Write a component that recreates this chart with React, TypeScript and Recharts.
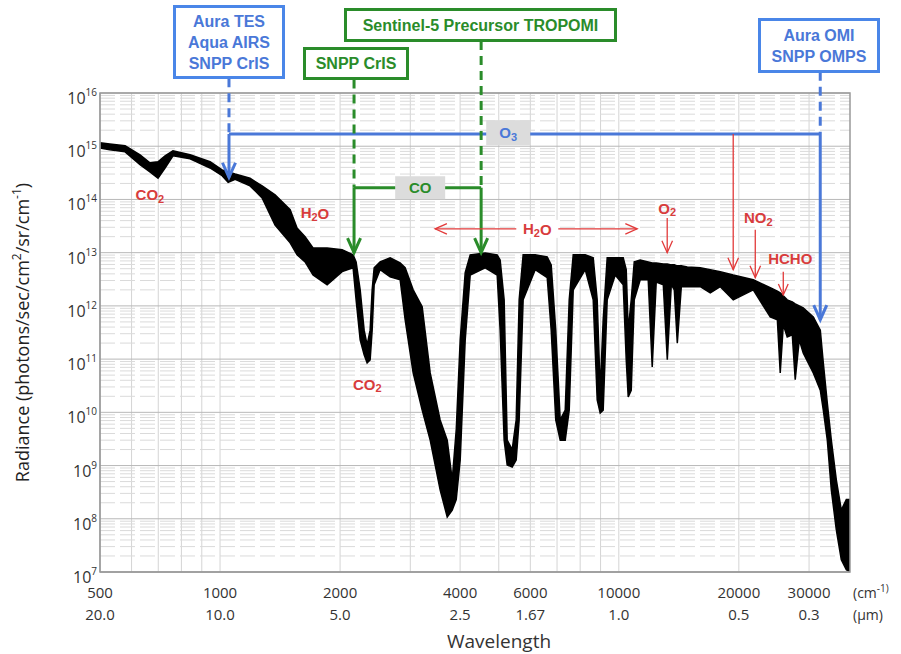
import React from 'react';
import {
  ComposedChart,
  Area,
  XAxis,
  YAxis,
  CartesianGrid,
  ReferenceLine,
  ReferenceDot,
  ReferenceArea,
} from 'recharts';

// spectrum envelope: wavenumber (cm-1) and upper / lower radiance
const wavenumber = [
  500, 529, 578, 630, 667, 699, 728, 762, 841, 944, 1012, 1048, 1091, 1189, 1275, 1374,
  1499, 1560, 1634, 1711, 1856, 2024, 2156, 2194, 2246, 2298, 2338, 2379, 2407, 2435,
  2520, 2670, 2829, 2912, 3050, 3213, 3365, 3564, 3713, 3822, 3911, 4002, 4119, 4240,
  4623, 4954, 5040, 5158, 5249, 5403, 5529, 5625, 5756, 6170, 6614, 6768, 6948, 7130,
  7339, 7510, 7686, 8237, 8626, 8827, 8981, 9138, 9352, 9795, 10258, 10438, 10559, 10744,
  10932, 11316, 11851, 12128, 12411, 12929, 13231, 13541, 13777, 14018, 14347, 14852,
  16006, 16957, 17966, 19364, 21736, 23975, 24980, 25398, 25850, 26446, 27230, 27695,
  28350, 29005, 30742, 32012, 32571, 33333, 34113, 35112, 36142, 37203, 38000,
];
const radianceHigh = [
  1.16e15, 1.1e15, 1.02e15, 6.9e14, 4.9e14, 5.1e14, 6.6e14, 8.2e14, 6.9e14, 5.1e14, 3.6e14, 3.3e14, 3.0e14, 2.5e14, 1.8e14, 1.22e14,
  6.4e13, 2.9e13, 2.0e13, 1.23e13, 1.23e13, 1.13e13, 9.1e12, 6.7e12, 2.0e12, 3.5e11, 1.85e11, 3.5e11, 2.0e12, 5.2e12,
  6.7e12, 8.0e12, 6.4e12, 5.2e12, 2.0e12, 9.6e11, 5.5e10, 7.2e9, 3.0e9, 5.4e8, 4.7e9, 2.3e11, 4.2e12, 9.1e12,
  9.9e12, 9.1e12, 7.3e12, 1.3e12, 3.0e9, 2.0e9, 7.2e9, 1.3e12, 9.1e12, 9.1e12, 8.3e12, 5.9e12, 3.5e11, 7.2e9,
  1.1e10, 1.3e12, 9.1e12, 9.1e12, 8.0e12, 1.3e12, 2.6e10, 5.5e11, 8.0e12, 8.0e12, 8.0e12, 4.8e12, 3.5e11, 1.3e12,
  6.7e12, 7.3e12, 6.7e12, 6.4e12, 6.4e12, 6.15e12, 6.15e12, 5.9e12, 5.9e12, 5.65e12, 5.65e12, 5.4e12,
  5.2e12, 4.8e12, 4.4e12, 3.8e12, 3.1e12, 2.2e12, 1.9e12, 1.75e12, 1.54e12, 1.3e12, 1.19e12, 1.09e12,
  1.0e12, 9.2e11, 6.2e11, 3.5e11, 8.5e10, 1.5e10, 3.0e9, 5.4e8, 1.46e8, 2.3e8, 2.3e8,
];
const radianceLow = [
  9.3e14, 8.6e14, 7.85e14, 4.5e14, 3.3e14, 2.5e14, 3.9e14, 6.6e14, 5.8e14, 3.9e14, 2.8e14, 2.1e14, 2.4e14, 1.8e14, 1.07e14, 3.3e13,
  1.53e13, 9.1e12, 6.7e12, 3.8e12, 2.5e12, 4.4e12, 5.2e12, 1.3e12, 2.3e11, 1.2e11, 8.5e10, 9.7e10, 3.5e11, 2.5e12,
  4.8e12, 3.5e12, 3.1e12, 5.5e11, 5.5e10, 1.1e10, 3.0e9, 3.5e8, 1.08e8, 1.46e8, 2.3e8, 1.27e9, 2.3e11, 3.8e12,
  5.2e12, 3.8e12, 3.5e11, 3.0e9, 1.03e9, 9.4e8, 1.27e9, 7.2e9, 1.3e12, 4.8e12, 3.4e12, 3.5e11, 7.2e9, 3.0e9,
  3.0e9, 1.1e10, 2.0e12, 4.8e12, 1.3e12, 1.71e10, 9.7e9, 1.1e10, 1.3e12, 3.8e12, 2.5e12, 9.7e10, 1.95e10, 2.6e10,
  1.3e12, 3.1e12, 3.1e12, 7.1e10, 2.8e12, 2.5e12, 9.7e10, 2.5e12, 2.0e12, 2.0e11, 2.3e12, 2.3e12,
  2.3e12, 1.75e12, 2.3e12, 1.3e12, 2.0e12, 6.2e11, 5.5e11, 5.5e10, 4.4e11, 2.6e11, 2.85e11, 4.1e10,
  2.3e11, 1.3e11, 5.5e10, 2.6e10, 1.1e10, 3.0e9, 3.5e8, 6.2e7, 1.7e7, 1.1e7, 1.0e7,
];

const xTicks = [500, 1000, 2000, 4000, 6000, 10000, 20000, 30000];
const micronLabels = ['20.0', '10.0', '5.0', '2.5', '1.67', '1.0', '0.5', '0.3'];
const decadeTicks = [1e7, 1e8, 1e9, 1e10, 1e11, 1e12, 1e13, 1e14, 1e15, 1e16];
const minorMultipliers = [2, 3, 4, 5, 6, 7, 8, 9];
const gridWavenumbers = [
  600, 700, 800, 900, 1000, 2000, 3000, 4000, 5000, 6000, 7000, 8000, 9000, 10000, 20000, 30000,
];

const spectrum = wavenumber.map((wn, i) => ({
  wn,
  band: [radianceLow[i], radianceHigh[i]],
}));
const minorY = decadeTicks
  .slice(0, -1)
  .flatMap((d) => minorMultipliers.map((m) => m * d));

const BLUE = '#4a78d8';
const GREEN = '#2a8c2a';
const RED = '#e23a3a';
const TXT_RED = '#d83c3c';
const AXIS_FONT = "'Open Sans', 'Liberation Sans', sans-serif";
const BOLD_FONT = "'Liberation Sans', Arial, sans-serif";

type ArrowOpts = { color: string; width: number; head?: number; both?: boolean; dash?: string };

const arrowShape =
  ({ color, width, head = 0, both = false, dash }: ArrowOpts) =>
  (p: any) => {
    const { x1, y1, x2, y2 } = p;
    const vee = (tx: number, ty: number, fx: number, fy: number) => {
      const a = Math.atan2(ty - fy, tx - fx);
      const s = 0.42;
      return `M${tx - head * Math.cos(a - s)},${ty - head * Math.sin(a - s)} L${tx},${ty} L${
        tx - head * Math.cos(a + s)
      },${ty - head * Math.sin(a + s)}`;
    };
    return (
      <g>
        <line x1={x1} y1={y1} x2={x2} y2={y2} stroke={color} strokeWidth={width} strokeDasharray={dash} />
        {head > 0 && <path d={vee(x2, y2, x1, y1)} fill="none" stroke={color} strokeWidth={width} />}
        {head > 0 && both && <path d={vee(x1, y1, x2, y2)} fill="none" stroke={color} strokeWidth={width} />}
      </g>
    );
  };

const sub = (t: string, after?: string) => [
  <tspan key="s" dy={4} fontSize={11}>
    {t}
  </tspan>,
  after ? (
    <tspan key="a" dy={-4}>
      {after}
    </tspan>
  ) : null,
];

const redLabel =
  (content: React.ReactNode) =>
  (p: any) => (
    <text
      x={p.cx}
      y={p.cy}
      textAnchor="middle"
      dominantBaseline="central"
      fontSize={15}
      fontWeight="bold"
      fontFamily={BOLD_FONT}
      fill={TXT_RED}
    >
      {content}
    </text>
  );

const boxLabel =
  (content: React.ReactNode, color: string, w: number, h: number, bg: string) =>
  (p: any) => (
    <g>
      <rect x={p.cx - w / 2} y={p.cy - h / 2} width={w} height={h} fill={bg} />
      <text
        x={p.cx}
        y={p.cy}
        textAnchor="middle"
        dominantBaseline="central"
        fontSize={15}
        fontWeight="bold"
        fontFamily={BOLD_FONT}
        fill={color}
      >
        {content}
      </text>
    </g>
  );

const XTick = ({ x, y, payload }: any) => {
  const i = xTicks.indexOf(payload.value);
  return (
    <g fontFamily={AXIS_FONT} fontSize={15} fill="#333">
      <text x={x} y={y + 26} textAnchor="middle">
        {payload.value}
      </text>
      <text x={x} y={y + 48} textAnchor="middle">
        {micronLabels[i]}
      </text>
    </g>
  );
};

const YTick = ({ x, y, payload }: any) => {
  const exp = Math.round(Math.log10(payload.value));
  return (
    <text x={x - 3} y={y + 11} textAnchor="end" fontSize={16} fill="#333" fontFamily={AXIS_FONT}>
      10
      <tspan dy={-8} fontSize={10}>
        {exp}
      </tspan>
    </text>
  );
};

const boxStyle = (color: string, left: number, top: number, w: number, h: number): React.CSSProperties => ({
  position: 'absolute',
  left,
  top,
  width: w,
  height: h,
  boxSizing: 'border-box',
  border: `3px solid ${color}`,
  background: '#fff',
  color,
  fontFamily: BOLD_FONT,
  fontWeight: 'bold',
  fontSize: 16,
  lineHeight: '21px',
  textAlign: 'center',
  display: 'flex',
  flexDirection: 'column',
  justifyContent: 'center',
});

export default function App() {
  return (
    <div style={{ position: 'absolute', left: 0, top: 0, width: 901, height: 654, background: '#fff' }}>
      <ComposedChart
        width={901}
        height={654}
        data={spectrum}
        margin={{ top: 93, right: 51, bottom: 0, left: 0 }}
      >
        <CartesianGrid horizontal={false} verticalValues={gridWavenumbers} stroke="#d4d4d4" />
        <CartesianGrid vertical={false} horizontalValues={minorY} stroke="#dadada" strokeDasharray="15 5" />
        <CartesianGrid vertical={false} horizontalValues={decadeTicks} stroke="#b8b8b8" />
        <XAxis
          dataKey="wn"
          type="number"
          scale="log"
          domain={[500, 38000]}
          allowDataOverflow
          ticks={xTicks}
          interval={0}
          tick={<XTick />}
          tickLine={false}
          tickSize={0}
          tickMargin={0}
          height={82}
          axisLine={{ stroke: '#999' }}
          label={{
            content: () => (
              <g fontFamily={AXIS_FONT} fill="#333">
                <text x={499} y={648} textAnchor="middle" fontSize={19}>
                  Wavelength
                </text>
                <text x={853} y={598} fontSize={14}>
                  (cm
                  <tspan dy={-6} fontSize={10}>
                    -1)
                  </tspan>
                </text>
                <text x={853} y={620} fontSize={14}>
                  (µm)
                </text>
              </g>
            ),
          }}
        />
        <YAxis
          type="number"
          scale="log"
          domain={[1e7, 1e16]}
          allowDataOverflow
          ticks={decadeTicks}
          interval={0}
          tick={<YTick />}
          tickLine={false}
          tickSize={0}
          tickMargin={0}
          width={100}
          axisLine={{ stroke: '#999' }}
          label={{
            content: (p: any) => {
              const vb = p.viewBox || { y: 93, height: 479 };
              const cy = vb.y + vb.height / 2;
              return (
                <text
                  x={22}
                  y={cy}
                  transform={`rotate(-90, 22, ${cy})`}
                  textAnchor="middle"
                  dominantBaseline="central"
                  fontSize={18}
                  fontFamily={AXIS_FONT}
                  fill="#222"
                >
                  Radiance (photons/sec/cm
                  <tspan dy={-6} fontSize={12}>
                    2
                  </tspan>
                  <tspan dy={6}>/sr/cm</tspan>
                  <tspan dy={-6} fontSize={12}>
                    -1
                  </tspan>
                  <tspan dy={6}>)</tspan>
                </text>
              );
            },
          }}
        />
        <Area
          type="linear"
          dataKey="band"
          stroke="#000"
          strokeWidth={1.5}
          fill="#000"
          fillOpacity={1}
          isAnimationActive={false}
          dot={false}
          activeDot={false}
        />
        <ReferenceArea x1={500} x2={38000} y1={1e7} y2={1e16} fill="none" stroke="#999" strokeWidth={1.5} ifOverflow="visible" />

        {/* O3 bracket (blue) */}
        <ReferenceLine segment={[{ x: 1053, y: 1.9e16 }, { x: 1053, y: 1.7e15 }]} ifOverflow="visible" shape={arrowShape({ color: BLUE, width: 3, dash: '9 6' })} />
        <ReferenceLine segment={[{ x: 32000, y: 2.5e16 }, { x: 32000, y: 1.7e15 }]} ifOverflow="visible" shape={arrowShape({ color: BLUE, width: 3, dash: '9 6' })} />
        <ReferenceLine segment={[{ x: 1053, y: 1.7e15 }, { x: 32000, y: 1.7e15 }]} ifOverflow="visible" shape={arrowShape({ color: BLUE, width: 3 })} />
        <ReferenceLine segment={[{ x: 1053, y: 1.7e15 }, { x: 1053, y: 2.6e14 }]} ifOverflow="visible" shape={arrowShape({ color: BLUE, width: 3, head: 16 })} />
        <ReferenceLine segment={[{ x: 32000, y: 1.7e15 }, { x: 32000, y: 5.5e11 }]} ifOverflow="visible" shape={arrowShape({ color: BLUE, width: 3, head: 16 })} />
        <ReferenceDot x={5280} y={1.8e15} ifOverflow="visible" shape={boxLabel(<>O{sub('3')}</>, BLUE, 44, 25, '#dcdcdc')} />

        {/* CO bracket (green) */}
        <ReferenceLine segment={[{ x: 2168, y: 1.8e16 }, { x: 2168, y: 1.66e14 }]} ifOverflow="visible" shape={arrowShape({ color: GREEN, width: 3, dash: '9 6' })} />
        <ReferenceLine segment={[{ x: 4516, y: 9.5e16 }, { x: 4516, y: 1.66e14 }]} ifOverflow="visible" shape={arrowShape({ color: GREEN, width: 3, dash: '9 6' })} />
        <ReferenceLine segment={[{ x: 2168, y: 1.66e14 }, { x: 4516, y: 1.66e14 }]} ifOverflow="visible" shape={arrowShape({ color: GREEN, width: 3 })} />
        <ReferenceLine segment={[{ x: 2168, y: 1.66e14 }, { x: 2168, y: 1e13 }]} ifOverflow="visible" shape={arrowShape({ color: GREEN, width: 3, head: 16 })} />
        <ReferenceLine segment={[{ x: 4516, y: 1.66e14 }, { x: 4516, y: 1e13 }]} ifOverflow="visible" shape={arrowShape({ color: GREEN, width: 3, head: 16 })} />
        <ReferenceDot x={3176} y={1.66e14} ifOverflow="visible" shape={boxLabel('CO', GREEN, 50, 23, '#dcdcdc')} />

        {/* red absorber markers */}
        <ReferenceLine segment={[{ x: 3461, y: 2.8e13 }, { x: 11120, y: 2.8e13 }]} ifOverflow="visible" shape={arrowShape({ color: RED, width: 1.3, head: 13, both: true })} />
        <ReferenceDot x={6245} y={2.8e13} ifOverflow="visible" shape={boxLabel(<>H{sub('2', 'O')}</>, TXT_RED, 42, 18, '#fff')} />
        <ReferenceLine segment={[{ x: 13225, y: 4.5e13 }, { x: 13225, y: 1e13 }]} ifOverflow="visible" shape={arrowShape({ color: RED, width: 1.3, head: 13 })} />
        <ReferenceLine segment={[{ x: 19360, y: 1.7e15 }, { x: 19360, y: 4.8e12 }]} ifOverflow="visible" shape={arrowShape({ color: RED, width: 1.3, head: 13 })} />
        <ReferenceLine segment={[{ x: 21990, y: 2.7e13 }, { x: 21990, y: 3.4e12 }]} ifOverflow="visible" shape={arrowShape({ color: RED, width: 1.3, head: 13 })} />
        <ReferenceLine segment={[{ x: 25850, y: 4.4e12 }, { x: 25850, y: 1.6e12 }]} ifOverflow="visible" shape={arrowShape({ color: RED, width: 1.3, head: 12 })} />

        <ReferenceDot x={667} y={1.23e14} ifOverflow="visible" shape={redLabel(<>CO{sub('2')}</>)} />
        <ReferenceDot x={1730} y={5.6e13} ifOverflow="visible" shape={redLabel(<>H{sub('2', 'O')}</>)} />
        <ReferenceDot x={2339} y={3.4e10} ifOverflow="visible" shape={redLabel(<>CO{sub('2')}</>)} />
        <ReferenceDot x={13225} y={6.9e13} ifOverflow="visible" shape={redLabel(<>O{sub('2')}</>)} />
        <ReferenceDot x={22380} y={4.5e13} ifOverflow="visible" shape={redLabel(<>NO{sub('2')}</>)} />
        <ReferenceDot x={26920} y={7.9e12} ifOverflow="visible" shape={redLabel('HCHO')} />
      </ComposedChart>

      <div style={boxStyle('#4a86e8', 173, 5, 112, 74)}>
        <div style={{ color: BLUE }}>Aura TES</div>
        <div style={{ color: BLUE }}>Aqua AIRS</div>
        <div style={{ color: BLUE }}>SNPP CrIS</div>
      </div>
      <div style={boxStyle(GREEN, 303, 47, 106, 33)}>SNPP CrIS</div>
      <div style={boxStyle(GREEN, 344, 8, 273, 34)}>Sentinel-5 Precursor TROPOMI</div>
      <div style={boxStyle('#4a86e8', 758, 18, 122, 55)}>
        <div style={{ color: BLUE }}>Aura OMI</div>
        <div style={{ color: BLUE }}>SNPP OMPS</div>
      </div>
    </div>
  );
}
